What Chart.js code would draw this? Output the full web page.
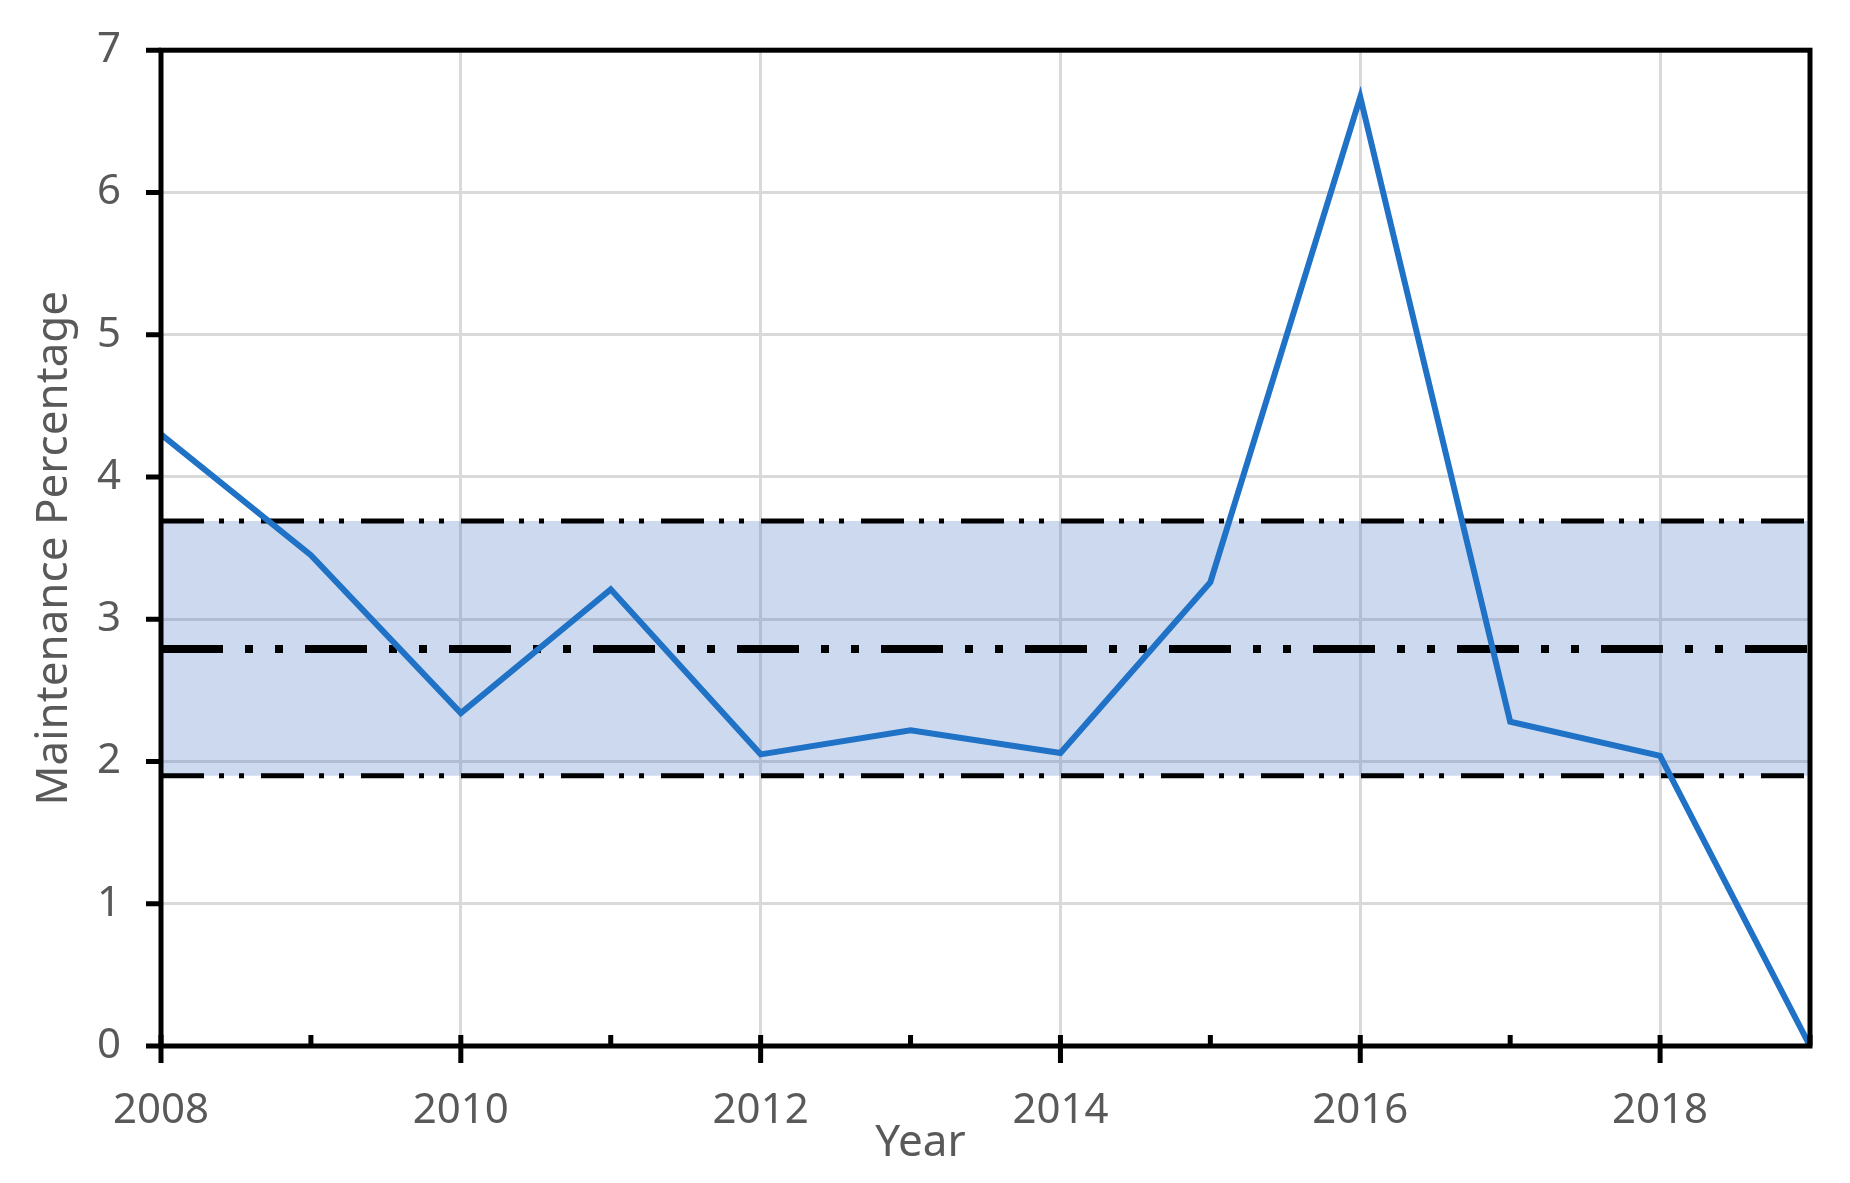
<!DOCTYPE html>
<html>
<head>
<meta charset="utf-8">
<script src="https://cdn.jsdelivr.net/npm/chart.js@4.4.1/dist/chart.umd.min.js"></script>
<style>
  html, body { margin: 0; padding: 0; background: #fff; }
  #wrap { width: 1850px; height: 1183px; }
</style>
</head>
<body>
<div id="wrap"><canvas id="maintChart"></canvas></div>
<script>
// values
var years = [2008, 2009, 2010, 2011, 2012, 2013, 2014, 2015, 2016, 2017, 2018, 2019];
var maintenance = [4.30, 3.45, 2.34, 3.21, 2.05, 2.22, 2.06, 3.26, 6.67, 2.28, 2.04, 0];
var bandYears = [2008, 2019];
var upperLimit = [3.69, 3.69];
var meanValue = [2.79, 2.79];
var lowerLimit = [1.90, 1.90];
var yTicks = [0, 1, 2, 3, 4, 5, 6, 7];
var xTitle = 'Year';

function toPoints(xs, ys) {
    return xs.map(function (x, i) { return { x: x, y: ys[i] }; });
}

var labelFont = { family: "'Noto Sans', sans-serif", size: 42 };
var titleFont = { family: "'Noto Sans', sans-serif", size: 44 };
var grey = '#595959';

// frame round the plot plus the tick marks (minor ticks inside, major ticks crossing)
var frameAndTicks = {
    id: 'frameAndTicks',
    afterDatasetsDraw: function (chart) {
        var ctx = chart.ctx;
        var a = chart.chartArea;
        var xs = chart.scales.x, ys = chart.scales.y;
        ctx.save();
        ctx.strokeStyle = '#000';
        ctx.lineWidth = 5;
        ctx.beginPath();
        yTicks.forEach(function (v) {
            var y = ys.getPixelForValue(v);
            ctx.moveTo(a.left - 15, y);
            ctx.lineTo(a.left, y);
        });
        years.forEach(function (yr) {
            var x = xs.getPixelForValue(yr);
            ctx.moveTo(x, a.bottom - 11);
            ctx.lineTo(x, yr % 2 === 0 ? a.bottom + 17 : a.bottom);
        });
        ctx.stroke();
        ctx.strokeRect(a.left, a.top, a.right - a.left, a.bottom - a.top);
        // x axis title, sitting a little left of centre as in the original
        ctx.fillStyle = grey;
        ctx.font = titleFont.size + 'px ' + titleFont.family;
        ctx.textAlign = 'center';
        ctx.textBaseline = 'middle';
        ctx.fillText(xTitle, (a.left + a.right) / 2 - 65, 1143);
        ctx.restore();
    }
};

var chart = new Chart(document.getElementById('maintChart').getContext('2d'), {
    type: 'line',
    data: {
        datasets: [
            {
                label: 'Maintenance Percentage',
                data: toPoints(years, maintenance),
                borderColor: '#1f72c6',
                borderWidth: 6,
                pointRadius: 0,
                tension: 0,
                fill: false
            },
            {
                label: 'Upper limit',
                data: toPoints(bandYears, upperLimit),
                borderColor: '#000',
                borderWidth: 5,
                borderDash: [43, 15, 5, 15, 5, 17],
                pointRadius: 0,
                fill: '+1',
                backgroundColor: 'rgba(68, 114, 196, 0.27)'
            },
            {
                label: 'Lower limit',
                data: toPoints(bandYears, lowerLimit),
                borderColor: '#000',
                borderWidth: 5,
                borderDash: [43, 15, 5, 15, 5, 17],
                pointRadius: 0,
                fill: false
            },
            {
                label: 'Mean',
                data: toPoints(bandYears, meanValue),
                borderColor: '#000',
                borderWidth: 8,
                borderDash: [62, 22, 8, 22, 8, 22],
                pointRadius: 0,
                fill: false
            }
        ]
    },
    options: {
        responsive: true,
        maintainAspectRatio: false,
        animation: false,
        layout: { padding: { top: 30, right: 38, bottom: 0, left: 0 } },
        plugins: {
            legend: { display: false },
            tooltip: { enabled: false },
            filler: { drawTime: 'beforeDatasetsDraw' }
        },
        scales: {
            x: {
                type: 'linear',
                min: 2008,
                max: 2019,
                afterFit: function (s) { s.height = 137; },
                afterBuildTicks: function (s) {
                    s.ticks = years.map(function (v) { return { value: v }; });
                },
                border: { display: false },
                grid: {
                    drawTicks: false,
                    lineWidth: 3,
                    color: function (c) {
                        return c.tick && c.tick.value % 2 === 0 ? '#d9d9d9' : 'rgba(0,0,0,0)';
                    }
                },
                ticks: {
                    autoSkip: false,
                    maxRotation: 0,
                    padding: 40,
                    color: grey,
                    font: labelFont,
                    callback: function (v) { return v % 2 === 0 ? String(v) : ''; }
                }
            },
            y: {
                min: 0,
                max: 7,
                afterFit: function (s) { s.width = 161; },
                afterBuildTicks: function (s) {
                    s.ticks = yTicks.map(function (v) { return { value: v }; });
                },
                border: { display: false },
                grid: {
                    drawTicks: true,
                    tickLength: 15,
                    tickColor: 'rgba(0,0,0,0)',
                    lineWidth: 3,
                    color: '#d9d9d9'
                },
                ticks: { padding: 25, color: grey, font: labelFont },
                title: {
                    display: true,
                    text: 'Maintenance Percentage',
                    color: grey,
                    font: titleFont,
                    padding: { top: 28, bottom: 0 }
                }
            }
        }
    },
    plugins: [frameAndTicks]
});
</script>
</body>
</html>
